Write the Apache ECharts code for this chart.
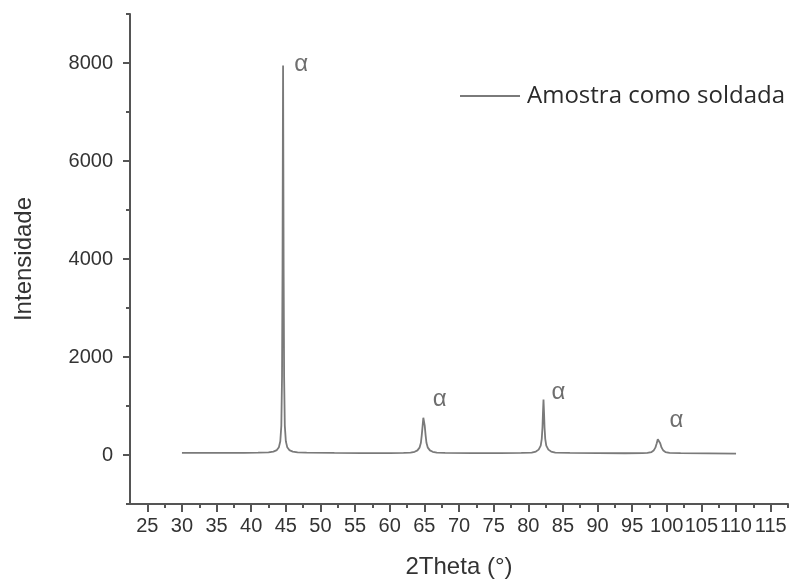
<!DOCTYPE html>
<html>
<head>
<meta charset="utf-8">
<script src="https://cdn.jsdelivr.net/npm/echarts@6/dist/echarts.min.js"></script>
<style>
html,body{margin:0;padding:0;background:#fff;}
#chart{width:790px;height:580px;}
</style>
</head>
<body>
<div id="chart"></div>
<script>
// ---- data ----
const seriesName = 'Amostra como soldada';
const thetaValues = [
  30, 33, 36, 39, 41, 42.5, 43.2, 43.7, 44.0, 44.2, 44.35, 44.45, 44.52, 44.57, 44.6,
  44.63, 44.68, 44.75, 44.85, 45.0, 45.2, 45.5, 46.0, 46.7, 48, 52, 56, 60, 62.0,
  63.0, 63.6, 64.0, 64.3, 64.5, 64.62, 64.75, 64.85, 64.9, 64.95, 65.05, 65.18, 65.3, 65.5, 65.8, 66.2, 66.8,
  68, 72, 76, 79, 80.5, 81.1, 81.5, 81.8, 81.95, 82.05, 82.12, 82.2, 82.28, 82.35, 82.45, 82.6,
  82.9, 83.3, 83.9, 86, 90, 94, 96.5, 97.2, 97.8, 98.1, 98.35, 98.55, 98.7, 98.8, 98.9, 99.05,
  99.25, 99.5, 99.8, 100.4, 102, 106, 110
];
const intensityValues = [
  45, 42, 42, 45, 48, 55, 70, 100, 160, 280, 600, 1600, 3800, 6500, 7950,
  6500, 3800, 1600, 600, 280, 160, 100, 70, 55, 48, 42, 40, 40, 45,
  50, 65, 95, 150, 250, 400, 600, 760, 800, 760, 600, 400, 250, 150, 95, 65, 50,
  45, 38, 38, 42, 50, 70, 110, 190, 330, 560, 850, 1130, 850, 560, 330, 190,
  110, 70, 50, 45, 38, 36, 38, 42, 60, 90, 150, 240, 320, 340, 320, 240,
  150, 90, 60, 42, 38, 33, 30
];
const peakTheta = [44.6, 64.9, 82.2, 98.8];
const peakIntensity = [7950, 800, 1130, 340];
const peakLabel = 'α';
const xMajorTicks = [25, 30, 35, 40, 45, 50, 55, 60, 65, 70, 75, 80, 85, 90, 95, 100, 105, 110, 115];
const xMinorTicks = [27.5, 32.5, 37.5, 42.5, 47.5, 52.5, 57.5, 62.5, 67.5, 72.5, 77.5, 82.5, 87.5, 92.5, 97.5, 102.5, 107.5, 112.5, 117.5];
const yMajorTicks = [0, 2000, 4000, 6000, 8000];
const yMinorTicks = [-1000, 1000, 3000, 5000, 7000, 9000];
const xName = '2Theta (°)';
const yName = 'Intensidade';

// ---- chart ----
const axisColor = '#555';
const labelFont = 'Liberation Sans, Arial, sans-serif';
const chart = echarts.init(document.getElementById('chart'), null, {renderer: 'canvas'});
const labelOffsets = [[18, -1], [16, -16], [15, -7], [18, -18]];
const seriesData = thetaValues.map((x, i) => [x, intensityValues[i]]);
const markData = peakTheta.map((x, i) => ({
  coord: [x, peakIntensity[i]],
  label: {offset: labelOffsets[i]}
}));
const plain = v => String(v);

const option = {
  animation: false,
  backgroundColor: '#fff',
  grid: {left: 130, right: 2, top: 14, bottom: 76, containLabel: false, outerBoundsMode: 'none'},
  legend: {
    data: [{name: seriesName, icon: 'rect'}],
    left: 460, top: 84, padding: 0,
    itemWidth: 60, itemHeight: 2, itemGap: 6,
    itemStyle: {color: '#7a7a7a'},
    textStyle: {fontFamily: 'Open Sans, sans-serif', fontSize: 24, color: '#2b2b2b', padding: [0, 0, 0, 2]}
  },
  xAxis: [{
    type: 'value', min: 22.5, max: 117.5, position: 'bottom',
    name: xName, nameLocation: 'middle', nameGap: 51,
    nameTextStyle: {fontFamily: labelFont, fontSize: 24, color: '#333'},
    axisLine: {show: true, onZero: false, lineStyle: {color: axisColor, width: 2}},
    axisTick: {show: true, customValues: xMajorTicks, length: 8, lineStyle: {color: axisColor, width: 2}},
    axisLabel: {show: true, customValues: xMajorTicks, formatter: plain, margin: 12, fontFamily: labelFont, fontSize: 20, color: '#333', hideOverlap: false},
    splitLine: {show: false}
  }, {
    type: 'value', min: 22.5, max: 117.5, position: 'bottom',
    axisLine: {show: false, onZero: false},
    axisTick: {show: true, customValues: xMinorTicks, length: 4, lineStyle: {color: axisColor, width: 2}},
    axisLabel: {show: false},
    splitLine: {show: false}
  }],
  yAxis: [{
    type: 'value', min: -1000, max: 9000, position: 'left',
    name: yName, nameLocation: 'middle', nameGap: 94, nameRotate: 90,
    nameTextStyle: {fontFamily: labelFont, fontSize: 24, color: '#333'},
    axisLine: {show: true, onZero: false, lineStyle: {color: axisColor, width: 2}},
    axisTick: {show: true, customValues: yMajorTicks, length: 7, lineStyle: {color: axisColor, width: 2}},
    axisLabel: {show: true, customValues: yMajorTicks, formatter: plain, margin: 17, fontFamily: labelFont, fontSize: 20, color: '#333'},
    splitLine: {show: false}
  }, {
    type: 'value', min: -1000, max: 9000, position: 'left',
    axisLine: {show: false, onZero: false},
    axisTick: {show: true, customValues: yMinorTicks, length: 4, lineStyle: {color: axisColor, width: 2}},
    axisLabel: {show: false},
    splitLine: {show: false}
  }],
  series: [{
    name: seriesName,
    type: 'line',
    xAxisIndex: 0, yAxisIndex: 0,
    data: seriesData,
    symbol: 'none',
    smooth: false,
    lineStyle: {color: '#7a7a7a', width: 1.8},
    itemStyle: {color: '#7a7a7a'},
    markPoint: {
      symbol: 'circle', symbolSize: 0,
      label: {show: true, position: 'inside', formatter: peakLabel,
        fontFamily: labelFont, fontSize: 24, color: '#6e6e6e'},
      data: markData
    }
  }]
};
chart.setOption(option);
</script>
</body>
</html>
